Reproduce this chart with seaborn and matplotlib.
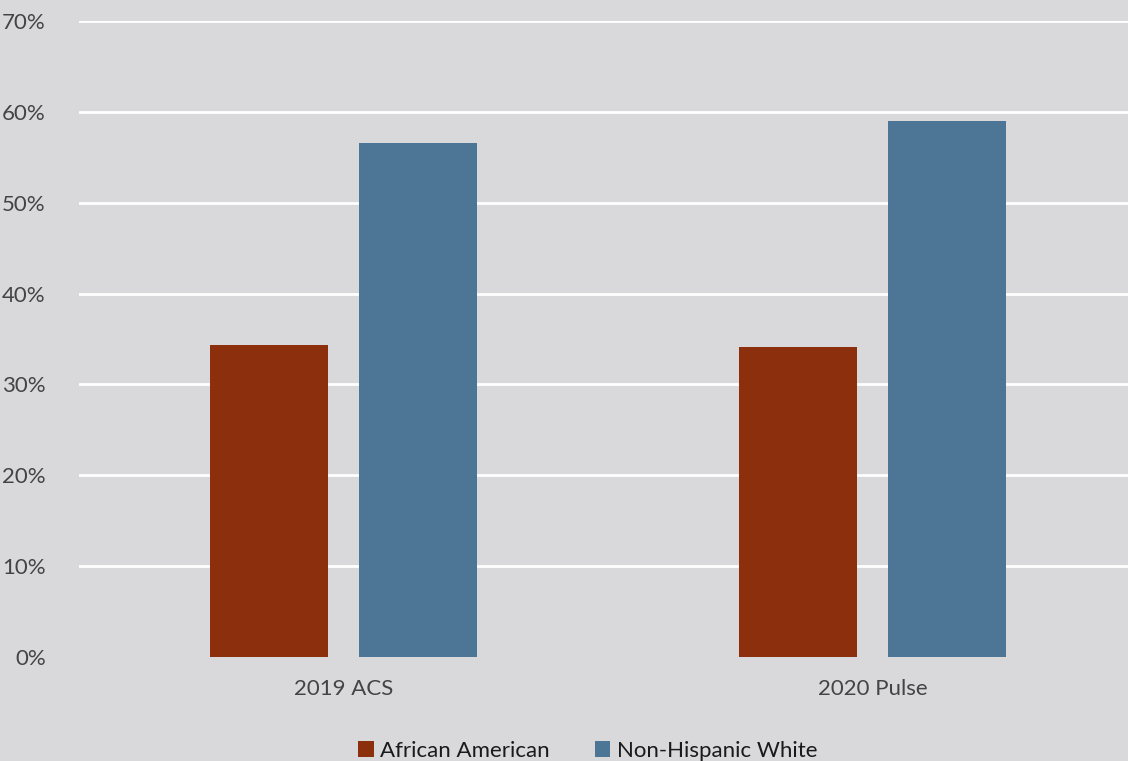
import pandas as pd
import seaborn as sns
from matplotlib import pyplot as plt
from matplotlib.ticker import PercentFormatter

# Data
surveys = ['2019 ACS', '2020 Pulse']
african_american = [0.343, 0.341]
non_hispanic_white = [0.566, 0.590]

data = pd.DataFrame({
    'survey': surveys * 2,
    'group': ['African American'] * 2 + ['Non-Hispanic White'] * 2,
    'share': african_american + non_hispanic_white,
})

bg = '#D9D9DB'
sns.set_style('white')
plt.rcParams['font.family'] = ['Lato', 'DejaVu Sans']

fig = plt.figure(figsize=(11.28, 7.61), dpi=100, facecolor=bg)
ax = fig.add_axes([79 / 1128, 1 - 657 / 761, 1 - 79 / 1128, (657 - 21) / 761])
ax.set_facecolor(bg)

sns.barplot(data=data, x='survey', y='share', hue='group',
            palette=['#8B2F0C', '#4D7595'], width=0.565, gap=0.21,
            saturation=1, linewidth=0, ax=ax)

ax.set_ylim(0, 0.70)
ax.set_xlim(-0.5, 1.483)
ax.set_yticks([i / 10 for i in range(8)])
ax.yaxis.set_major_formatter(PercentFormatter(1.0, decimals=0))
ax.yaxis.grid(True, color='white', linewidth=2)
ax.set_axisbelow(True)
# no white line at 0%
ax.get_ygridlines()[0].set_visible(False)
for s in ax.spines.values():
    s.set_visible(False)
ax.set_xlabel('')
ax.set_ylabel('')
ax.tick_params(axis='both', length=0, labelsize=16, labelcolor='#444444')
ax.tick_params(axis='x', pad=16)
ax.tick_params(axis='y', pad=24)

ax.legend(loc='upper center', bbox_to_anchor=(0.485, -0.1), ncol=2,
          frameon=False, fontsize=16, handlelength=0.7, handleheight=0.7,
          handletextpad=0.3, columnspacing=2.0, labelcolor='#1A1A1A')

fig.savefig('out.png', dpi=100, facecolor=bg)
